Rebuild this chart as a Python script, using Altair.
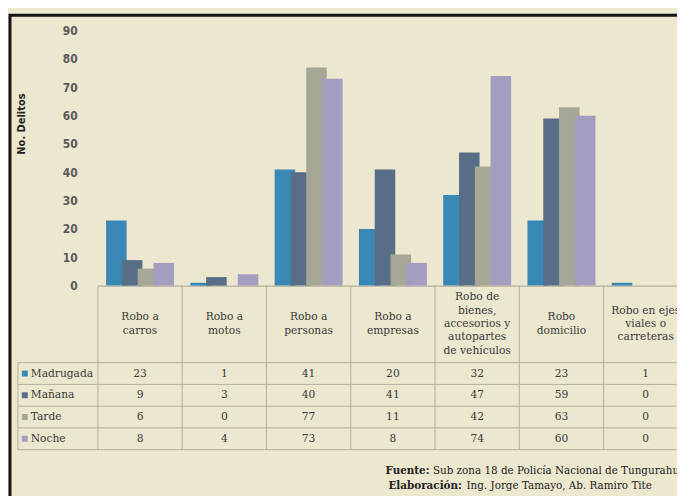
import altair as alt
import pandas as pd

# ---------------- data ----------------
categories = [
    "Robo a carros", "Robo a motos", "Robo a personas", "Robo a empresas",
    "Robo de bienes, accesorios y autopartes de vehículos", "Robo domicilio",
    "Robo en ejes viales o carreteras",
]
category_labels = [
    "Robo a\ncarros", "Robo a\nmotos", "Robo a\npersonas", "Robo a\nempresas",
    "Robo de\nbienes,\naccesorios y\nautopartes\nde vehículos", "Robo\ndomicilio",
    "Robo en ejes\nviales o\ncarreteras",
]
series = ["Madrugada", "Mañana", "Tarde", "Noche"]
madrugada = [23, 1, 41, 20, 32, 23, 1]
manana = [9, 3, 40, 41, 47, 59, 0]
tarde = [6, 0, 77, 11, 42, 63, 0]
noche = [8, 4, 73, 8, 74, 60, 0]
y_ticks = [0, 10, 20, 30, 40, 50, 60, 70, 80, 90]
y_title = "No. Delitos"
source_label = "Fuente:"
source_text = "Sub zona 18 de Policía Nacional de Tungurahua"
credit_label = "Elaboración:"
credit_text = "Ing. Jorge Tamayo, Ab. Ramiro Tite"

colors = ["#3a88b6", "#586d86", "#a6a796", "#a39ebf"]
BG = "#ece7cf"
LINE = "#b3af9d"
SERIF = "DejaVu Serif"
FS = 10.8

rows = []
for s, vals in zip(series, [madrugada, manana, tarde, noche]):
    for c, v in zip(categories, vals):
        rows.append({"cat": c, "series": s, "value": v})
df = pd.DataFrame(rows)
df_cat = pd.DataFrame({
    "cat": categories,
    "label": category_labels,
    "nlines": [lbl.count("\n") + 1 for lbl in category_labels],
})
df_series = pd.DataFrame({"series": series})
df_one = pd.DataFrame({"a": [0]})
df_bounds = pd.DataFrame({"b": [0, 1, 2, 3, 4]})

BAND = 597 / 7
xscale = alt.Scale(domain=categories, range=[0, 597], paddingInner=0, paddingOuter=0)
color_scale = alt.Scale(domain=series, range=colors)
row_scale = alt.Scale(type="point", domain=series, range=[347, 413], padding=0)
LH = 13.5
REL = 1.3
SHIFT = (REL - 1) / 2 * (BAND - BAND / (4 + 2 * 0.667))  # keep widened bars centred

# ---------------- bars ----------------
bars = alt.Chart(df).mark_bar(width=alt.RelativeBandSize(REL)).encode(
    x=alt.X("cat:N", scale=xscale, sort=categories,
            axis=alt.Axis(labels=False, ticks=False, domain=True, domainColor=LINE,
                          domainWidth=1.2, title=None, grid=False)),
    xOffset=alt.XOffset("series:N", sort=series,
                        scale=alt.Scale(domain=series, paddingInner=0, paddingOuter=0.667,
                                        range=[SHIFT, BAND + SHIFT])),
    y=alt.Y("value:Q", scale=alt.Scale(domain=[0, 90], nice=False),
            axis=alt.Axis(values=y_ticks, title=y_title, domain=False, ticks=False,
                          labelPadding=21, labelFont="DejaVu Sans Condensed",
                          labelFontWeight="bold", labelFontSize=12, labelColor="#5a5a5a",
                          gridColor="#dad5bd", gridWidth=1,
                          titleFont="DejaVu Sans", titleFontWeight="bold", titleFontSize=10,
                          titleColor="#222222", titleX=-77, titleY=94, titleAngle=270,
                          titleAlign="center", titleBaseline="middle")),
    color=alt.Color("series:N", scale=color_scale, legend=None),
)

# ---------------- table ----------------
hlines = alt.Chart(df_bounds).mark_rule(color=LINE, strokeWidth=1).encode(
    y=alt.Y("b:Q", scale=alt.Scale(domain=[0, 4], range=[336, 424]), axis=None),
    x=alt.value(-81), x2=alt.value(700),
)
vlines = alt.Chart(df_cat).mark_rule(color=LINE, strokeWidth=1).encode(
    x=alt.X("cat:N", scale=xscale, bandPosition=0),
    y=alt.value(258), y2=alt.value(424),
)
leftline = alt.Chart(df_one).mark_rule(color=LINE, strokeWidth=1).encode(
    x=alt.value(-81), y=alt.value(336), y2=alt.value(424),
)
# first line of each multi-line header placed so that the block is centred
header = alt.Chart(df_cat).mark_text(
    font=SERIF, fontSize=FS, color="#3a3a3a", lineBreak="\n", lineHeight=LH,
    align="center", baseline="middle",
).encode(
    x=alt.X("cat:N", scale=xscale),
    y=alt.Y("nlines:Q", scale=alt.Scale(domain=[1, 5], range=[297, 297 - 2 * LH]), axis=None),
    text="label:N",
)
cells = alt.Chart(df).mark_text(
    font=SERIF, fontSize=FS, color="#3a3a3a", align="center", baseline="middle",
).encode(
    x=alt.X("cat:N", scale=xscale),
    y=alt.Y("series:N", scale=row_scale, axis=None),
    text="value:Q",
)
row_marks = alt.Chart(df_series).mark_square(size=36, opacity=1).encode(
    x=alt.value(-74),
    y=alt.Y("series:N", scale=row_scale, axis=None),
    color=alt.Color("series:N", scale=color_scale, legend=None),
)
row_labels = alt.Chart(df_series).mark_text(
    font=SERIF, fontSize=FS, color="#3a3a3a", align="left", baseline="middle",
).encode(
    x=alt.value(-68),
    y=alt.Y("series:N", scale=row_scale, axis=None),
    text="series:N",
)

# ---------------- footnote ----------------
def note(txt, x, y, bold):
    return alt.Chart(df_one).mark_text(
        text=txt, font=SERIF, fontSize=10.5, color="#222222", align="left",
        baseline="middle", fontWeight="bold" if bold else "normal",
    ).encode(x=alt.value(x), y=alt.value(y))

notes = [
    note(source_label, 291, 446, True), note(source_text, 339, 446, False),
    note(credit_label, 294, 461, True), note(credit_text, 373, 461, False),
]

frame = alt.Chart(df_one).mark_rect(fillOpacity=0, stroke="#151515", strokeWidth=3).encode(
    x=alt.value(-89), x2=alt.value(720), y=alt.value(-15.5), y2=alt.value(700),
)

chart = alt.layer(
    hlines, vlines, leftline, bars, header, cells, row_marks, row_labels, *notes, frame
).resolve_scale(y="independent").properties(
    width=586, height=258,
    autosize=alt.AutoSizeParams(type="none"),
    padding={"left": 91, "top": 20, "right": 0, "bottom": 210},
    background=BG,
).configure_view(stroke=None)

chart.save("out.html", embed_options={"renderer": "svg", "actions": False})
